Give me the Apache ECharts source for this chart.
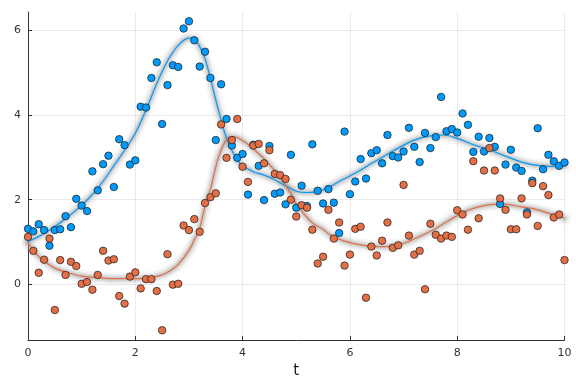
<!DOCTYPE html>
<html><head><meta charset="utf-8">
<script src="https://cdn.jsdelivr.net/npm/echarts@6/dist/echarts.min.js"></script>
<style>html,body{margin:0;padding:0;background:#fff}#c{width:576px;height:384px}</style>
</head><body><div id="c"></div><script>
const tValues = [0.0,0.1,0.2,0.3,0.4,0.5,0.6,0.7,0.8,0.9,1.0,1.1,1.2,1.3,1.4,1.5,1.6,1.7,1.8,1.9,2.0,2.1,2.2,2.3,2.4,2.5,2.6,2.7,2.8,2.9,3.0,3.1,3.2,3.3,3.4,3.5,3.6,3.7,3.8,3.9,4.0,4.1,4.2,4.3,4.4,4.5,4.6,4.7,4.8,4.9,5.0,5.1,5.2,5.3,5.4,5.5,5.6,5.7,5.8,5.9,6.0,6.1,6.2,6.3,6.4,6.5,6.6,6.7,6.8,6.9,7.0,7.1,7.2,7.3,7.4,7.5,7.6,7.7,7.8,7.9,8.0,8.1,8.2,8.3,8.4,8.5,8.6,8.7,8.8,8.9,9.0,9.1,9.2,9.3,9.4,9.5,9.6,9.7,9.8,9.9,10.0];
const blueObs = [1.31,1.25,1.42,1.28,0.91,1.28,1.30,1.61,1.35,2.02,1.86,1.73,2.67,2.22,2.84,3.04,2.30,3.43,3.29,2.83,2.93,4.20,4.18,4.88,5.25,3.79,4.71,5.18,5.14,6.05,6.22,5.77,5.15,5.50,4.88,3.41,4.73,3.91,3.28,2.99,3.08,2.12,3.30,2.80,1.99,3.27,2.14,2.17,1.89,3.06,1.81,2.33,1.85,3.31,2.21,1.91,2.25,1.93,1.21,3.61,2.13,2.43,2.96,2.50,3.10,3.17,2.86,3.53,3.03,3.00,3.14,3.70,3.25,2.89,3.58,3.22,3.48,4.43,3.62,3.67,3.59,4.04,3.77,3.13,3.49,3.14,3.46,3.25,1.90,2.83,3.18,2.76,2.68,1.70,2.45,3.69,2.72,3.06,2.91,2.80,2.88];
const orangeObs = [1.12,0.79,0.27,0.58,1.08,-0.61,0.57,0.22,0.53,0.43,0.01,0.05,-0.13,0.22,0.79,0.56,0.59,-0.28,-0.46,0.18,0.28,-0.10,0.12,0.12,-0.16,-1.09,0.71,-0.01,0.01,1.39,1.28,1.54,1.24,1.92,2.06,2.15,3.78,2.99,3.41,3.91,2.78,2.42,3.28,3.32,2.86,3.17,2.61,2.58,2.49,2.00,1.60,1.87,1.81,1.29,0.49,0.65,1.76,1.08,1.46,0.44,0.70,1.31,1.36,-0.32,0.89,0.68,1.03,1.46,0.86,0.92,2.35,1.15,0.70,0.79,-0.12,1.43,1.17,1.08,1.15,1.12,1.75,1.65,1.29,2.91,1.56,2.69,3.22,2.69,2.03,1.76,1.30,1.30,2.03,1.65,2.39,1.38,2.32,2.11,1.58,1.65,0.57];
const blueFitT = [0,0.3,0.7,1.0,1.3,1.6,1.8,2.0,2.2,2.4,2.6,2.8,3.0,3.1,3.2,3.3,3.4,3.5,3.6,3.7,3.8,3.9,4.0,4.2,4.4,4.6,4.8,5.0,5.2,5.4,5.6,5.8,6.0,6.2,6.4,6.6,6.9,7.2,7.5,7.75,8.0,8.3,8.6,8.9,9.2,9.5,9.8,10];
const blueFitY = [1.01,1.2,1.55,1.87,2.27,2.80,3.17,3.57,4.12,4.75,5.28,5.65,5.82,5.80,5.62,5.33,4.87,4.36,3.88,3.45,3.17,2.94,2.80,2.66,2.58,2.47,2.33,2.20,2.17,2.19,2.29,2.43,2.56,2.70,2.86,3.00,3.22,3.41,3.51,3.53,3.45,3.30,3.18,3.03,2.89,2.81,2.79,2.80];
const orangeFitT = [0,0.15,0.3,0.5,0.75,1.0,1.35,1.6,2.0,2.2,2.47,2.65,2.8,3.0,3.1,3.2,3.3,3.4,3.55,3.7,3.83,4.0,4.2,4.4,4.7,4.9,5.0,5.3,5.5,5.65,5.9,6.2,6.5,6.7,7.0,7.3,7.6,7.9,8.2,8.5,8.8,9.2,9.5,9.8,10];
const orangeFitY = [0.98,0.72,0.55,0.38,0.27,0.19,0.15,0.13,0.13,0.14,0.21,0.32,0.47,0.80,1.05,1.32,1.85,2.25,3.00,3.42,3.49,3.40,3.20,2.97,2.53,2.15,1.90,1.45,1.30,1.15,1.02,0.93,0.89,0.89,0.97,1.13,1.32,1.55,1.75,1.86,1.90,1.83,1.76,1.64,1.56];
const xTicks = [0,2,4,6,8,10];
const yTicks = [0,2,4,6];

const zip = (a,b)=>a.map((v,i)=>[v,b[i]]);
const blueC = '#009AFA', orangeC = '#E36F47';
function band(data){
  return [
    {w:13,c:'rgba(175,175,175,0.10)'},
    {w:9,c:'rgba(165,165,165,0.14)'},
    {w:6,c:'rgba(150,150,150,0.18)'},
    {w:3.5,c:'rgba(140,140,140,0.2)'}
  ].map(s=>({type:'line',data,smooth:0.35,symbol:'none',silent:true,
    lineStyle:{width:s.w,color:s.c,cap:'round',join:'round'},z:1}));
}
const chart = echarts.init(document.getElementById('c'),null,{renderer:'canvas'});
const axisCommon = {
  axisLine:{show:true,onZero:false,lineStyle:{color:'#333',width:1}},
  axisTick:{show:true,inside:true,length:4,lineStyle:{color:'#333',width:1}},
  splitLine:{show:true,lineStyle:{color:'rgba(0,0,0,0.08)',width:1}},
  axisLabel:{color:'#333',fontSize:11,fontFamily:'DejaVu Sans'}
};
chart.setOption({
  animation:false,
  backgroundColor:'#fff',
  grid:{left:28,right:11.5,top:12,bottom:44,containLabel:false},
  xAxis:{type:'value',min:0,max:10,interval:2,
    name:'t',nameLocation:'middle',nameGap:22,
    nameTextStyle:{color:'#222',fontSize:15,fontFamily:'DejaVu Sans'},
    ...axisCommon,
    axisTick:{...axisCommon.axisTick,customValues:xTicks},
    axisLabel:{...axisCommon.axisLabel,margin:8,customValues:xTicks}
  },
  yAxis:{type:'value',min:-1.32,max:6.44,
    ...axisCommon,
    axisTick:{...axisCommon.axisTick,customValues:yTicks},
    axisLabel:{...axisCommon.axisLabel,margin:7,customValues:yTicks},
    splitLine:{...axisCommon.splitLine}
  },
  series:[
    ...band(zip(blueFitT,blueFitY)),
    ...band(zip(orangeFitT,orangeFitY)),
    {type:'line',data:zip(blueFitT,blueFitY),smooth:0.35,symbol:'none',lineStyle:{width:1.2,color:blueC},z:2},
    {type:'line',data:zip(orangeFitT,orangeFitY),smooth:0.35,symbol:'none',lineStyle:{width:1.2,color:orangeC},z:2},
    {type:'scatter',data:zip(tValues,blueObs),symbolSize:7.5,itemStyle:{color:blueC,borderColor:'#1a1a1a',borderWidth:0.7,opacity:1},z:3},
    {type:'scatter',data:zip(tValues,orangeObs),symbolSize:7.5,itemStyle:{color:orangeC,borderColor:'#1a1a1a',borderWidth:0.7,opacity:1},z:4}
  ]
});
</script></body></html>
